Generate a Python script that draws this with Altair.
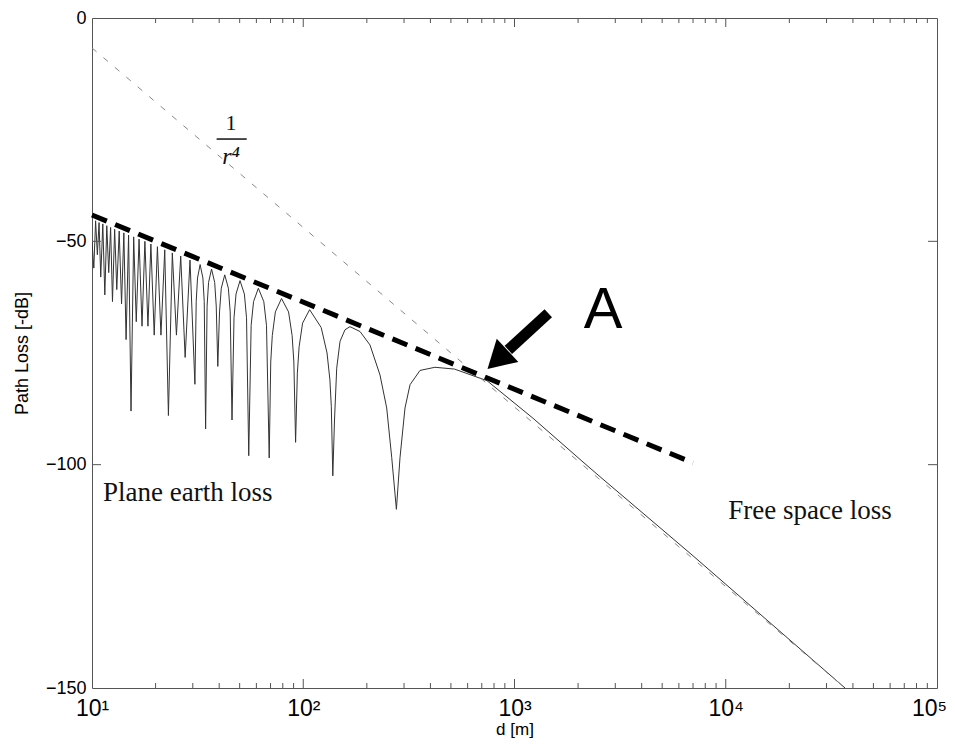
import altair as alt
import pandas as pd

# ---- data ----
# two-ray (plane earth) received level, d in metres, level in dB
curve_d = [10.0, 10.2, 10.4, 10.6, 10.8, 11.0, 11.25, 11.5, 11.75, 12.0, 12.25, 12.5, 12.8, 13.1,
           13.45, 13.8, 14.15, 14.5, 14.9, 15.3, 15.75, 16.2, 16.7, 17.25, 17.8, 18.4, 19.0, 19.7,
           20.4, 21.2, 22.1, 23.0, 24.0, 25.1, 26.3, 27.6, 29.1, 30.7,
           31.14, 31.59, 32.5, 33.49, 33.99, 34.5,
           35.06, 35.63, 36.8, 38.08, 38.74, 39.4,
           40.15, 40.93, 42.5, 44.21, 45.10, 46.0,
           47.02, 48.06, 50.2, 52.64, 53.89, 55.2,
           56.67, 58.18, 61.3, 65.05, 66.99, 69.0,
           70.17, 71.36, 73.79, 78.9, 85.21, 88.57, 90.26, 92.0,
           93.77, 95.59, 99.29, 107.2, 121.6, 129.6, 133.7, 135.8, 138.0,
           140.6, 144.0, 149.3, 157.6, 166.4, 185.7, 207.0, 230.8, 248.3, 262.3, 276.0,
           287.1, 303.2, 320.2, 357.0, 420.0, 520.0, 741.0, 1223.0, 2110.0, 2541.0, 7000.0, 36700.0]
curve_db = [-50.0, -56.0, -45.4, -53.0, -45.8, -58.0, -46.1, -62.0, -46.5, -57.0, -46.9, -63.5, -47.3, -60.8,
            -47.7, -64.0, -48.1, -72.0, -48.6, -88.0, -49.0, -68.0, -49.5, -69.0, -50.0, -69.0, -50.6, -71.0,
            -51.2, -71.0, -51.9, -89.0, -52.6, -71.0, -53.3, -76.0, -54.2, -82.0,
            -63.5, -58.2, -55.2, -58.2, -63.5, -92.0,
            -64.5, -59.2, -56.2, -59.2, -64.5, -78.0,
            -65.8, -60.5, -57.5, -60.5, -65.8, -90.0,
            -67.1, -61.8, -58.8, -61.8, -67.1, -98.0,
            -68.8, -63.5, -60.5, -63.5, -68.8, -98.5,
            -77.0, -71.1, -65.8, -62.8, -65.8, -71.1, -77.0, -95.0,
            -79.5, -73.6, -68.3, -65.3, -69.3, -75.0, -81.0, -87.0, -102.5,
            -90.0, -78.4, -72.4, -69.8, -69.1, -70.2, -73.2, -79.9, -87.3, -98.4, -110.0,
            -98.4, -87.3, -82.1, -78.9, -78.2, -78.6, -81.2, -89.6, -99.4, -102.7, -120.4, -150.0]

# 1/r^4 reference (thin dashed) and 1/r^2 envelope (thick dashed)
r4_d = [10.0, 36700.0]
r4_db = [-6.7, -150.0]
r2_d = [10.0, 7000.0]
r2_db = [-44.1, -99.6]

x_ticks = [10, 100, 1000, 10000, 100000]
x_tick_labels = ["10\u00b9", "10\u00b2", "10\u00b3", "10\u2074", "10\u2075"]
y_ticks = [0, -50, -100, -150]
minor_x = [k * 10 ** e for e in range(1, 5) for k in range(2, 10)]

W, H = 845, 670

label_expr = " : ".join(
    f"datum.value == {v} ? '{t}'" for v, t in zip(x_ticks, x_tick_labels)
) + " : ''"

X = alt.X("d:Q", scale=alt.Scale(type="log", domain=[10, 100000]),
          axis=alt.Axis(values=x_ticks, labelExpr=label_expr, title="d [m]", ticks=False,
                        domain=False, grid=False, labelFontSize=23, labelPadding=9,
                        labelOffset={"condition": {"test": "datum.value == 100000", "value": -8},
                                     "value": 0},
                        titleFontSize=17, titlePadding=1, labelFlush=False))
Y = alt.Y("db:Q", scale=alt.Scale(domain=[-150, 0]),
          axis=alt.Axis(values=y_ticks, title="Path Loss [-dB]", ticks=False, domain=False,
                        grid=False, labelFontSize=18, labelPadding=6, titleFontSize=18,
                        titlePadding=14, labelFlush=False))

curve = alt.Chart(pd.DataFrame({"d": curve_d, "db": curve_db})).mark_line(
    color="#333333", strokeWidth=1, clip=True).encode(x=X, y=Y)

r4 = alt.Chart(pd.DataFrame({"d": r4_d, "db": r4_db})).mark_line(
    color="#888888", strokeWidth=1, strokeDash=[6, 9], clip=True).encode(x=X, y=Y)

r2 = alt.Chart(pd.DataFrame({"d": r2_d, "db": r2_db})).mark_line(
    color="black", strokeWidth=5, strokeDash=[16, 9], strokeCap="butt").encode(x=X, y=Y)

# inward ticks
maj_df = pd.DataFrame({"d": x_ticks[1:-1]})
min_df = pd.DataFrame({"d": minor_x})
tick_color = "#555555"
xt = []
for df, ln in ((maj_df, 9), (min_df, 5)):
    xt.append(alt.Chart(df).mark_rule(color=tick_color, strokeWidth=1).encode(
        x=X, y=alt.value(H), y2=alt.value(H - ln)))
    xt.append(alt.Chart(df).mark_rule(color=tick_color, strokeWidth=1).encode(
        x=X, y=alt.value(0), y2=alt.value(ln)))
yt_df = pd.DataFrame({"db": [-50, -100]})
yt = [
    alt.Chart(yt_df).mark_rule(color=tick_color, strokeWidth=1).encode(
        y=Y, x=alt.value(0), x2=alt.value(9)),
    alt.Chart(yt_df).mark_rule(color=tick_color, strokeWidth=1).encode(
        y=Y, x=alt.value(W), x2=alt.value(W - 9)),
]

# annotations
serif = "Liberation Serif"
txt_df = pd.DataFrame({"d": [11.27, 10280.0], "db": [-108.1, -112.2],
                       "t": ["Plane earth loss", "Free space loss"]})
texts = alt.Chart(txt_df).mark_text(font=serif, fontSize=27, align="left",
                                     baseline="alphabetic", color="#111111").encode(
    x=X, y=Y, text="t:N")

one_df = pd.DataFrame({"d": [45.5], "db": [-23.6], "t": ["1"]})
one = alt.Chart(one_df).mark_text(font=serif, fontSize=22, color="#111111").encode(
    x=X, y=Y, text="t:N")
bar_df = pd.DataFrame({"d": [38.9], "d2": [54.0], "db": [-27.1]})
bar = alt.Chart(bar_df).mark_rule(color="#111111", strokeWidth=1.5).encode(
    x=X, x2="d2:Q", y=Y)
r_df = pd.DataFrame({"d": [45.5], "db": [-31.2], "t": ["r\u2074"]})
rlab = alt.Chart(r_df).mark_text(font=serif, fontSize=24, fontStyle="italic",
                                  color="#111111").encode(x=X, y=Y, text="t:N")

a_df = pd.DataFrame({"d": [2624.0], "db": [-65.7], "t": ["A"]})
a_txt = alt.Chart(a_df).mark_text(font="Liberation Sans", fontSize=58,
                                   color="black").encode(x=X, y=Y, text="t:N")

shaft_df = pd.DataFrame({"d": [1445.0], "d2": [935.0], "db": [-66.1], "db2": [-74.3]})
shaft = alt.Chart(shaft_df).mark_rule(color="black", strokeWidth=11, strokeCap="butt").encode(
    x=X, x2="d2:Q", y=Y, y2="db2:Q")
head_df = pd.DataFrame({"d": [831.0], "db": [-76.5]})
head = alt.Chart(head_df).mark_point(shape="triangle-up", size=1000, filled=True, opacity=1,
                                     color="black", angle=227).encode(x=X, y=Y)

chart = alt.layer(curve, r4, r2, *xt, *yt, texts, one, bar, rlab, a_txt, shaft, head).properties(
    width=W, height=H,
    autosize=alt.AutoSizeParams(type="none"),
    padding={"left": 84, "top": 10, "right": 10, "bottom": 57},
).configure_view(stroke="#555555", strokeWidth=1).configure_axis(
    labelFont="Liberation Sans", titleFont="Liberation Sans", titleFontWeight="normal",
    labelColor="black", titleColor="black")

chart.save("out.html", embed_options={"renderer": "svg", "actions": False})
